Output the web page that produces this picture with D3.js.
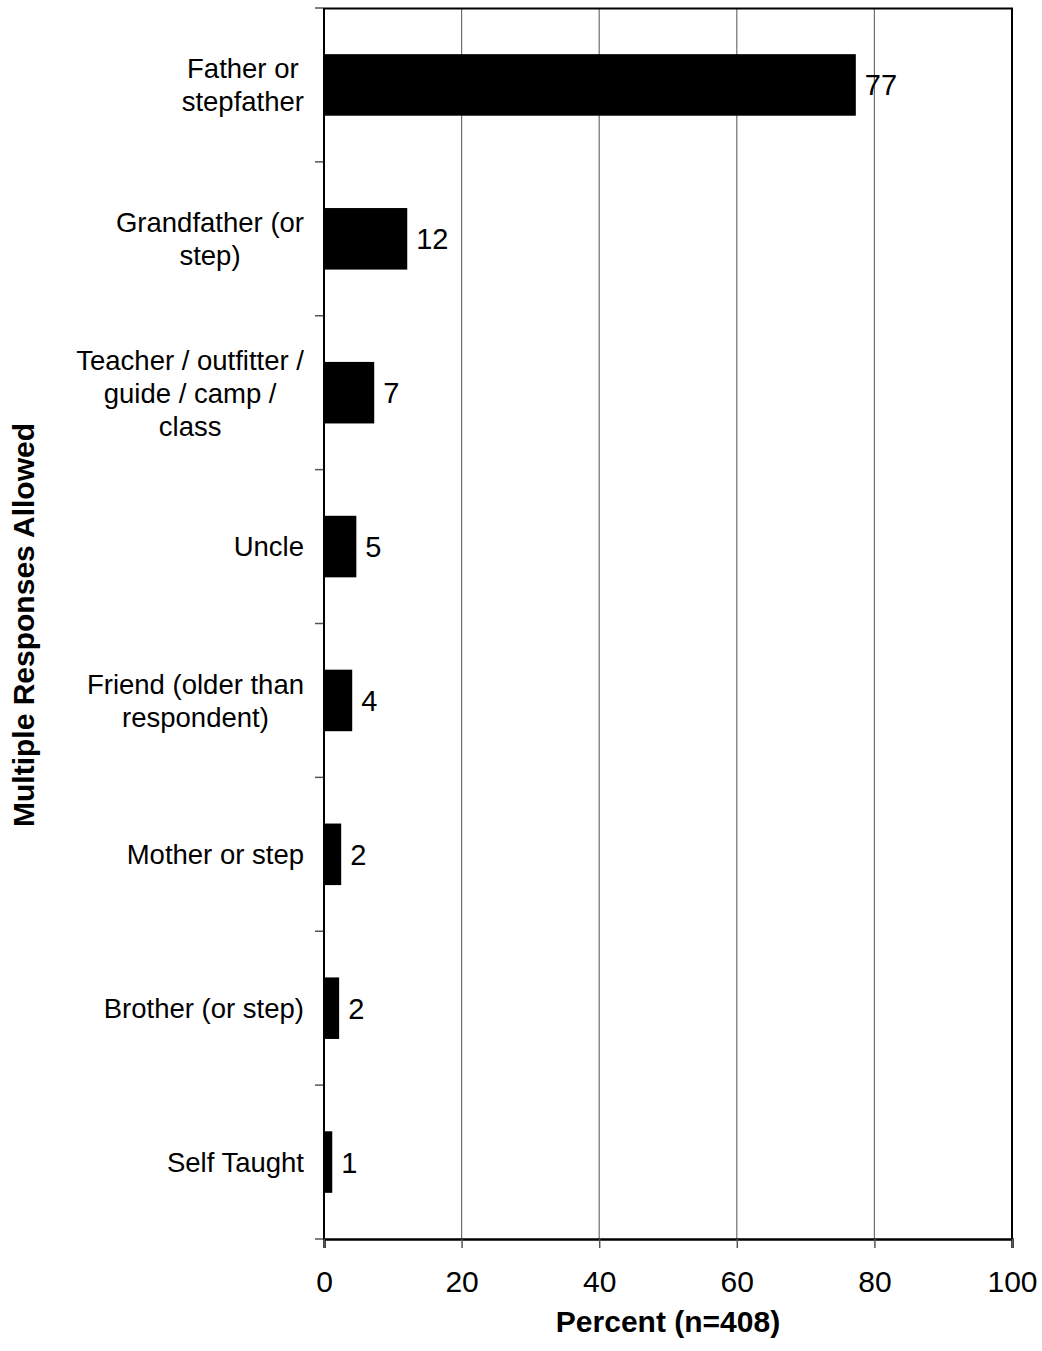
<!DOCTYPE html>
<html>
<head>
<meta charset="utf-8">
<script src="https://cdn.jsdelivr.net/npm/d3@7"></script>
<style>
  html, body { margin: 0; padding: 0; background: #fff; }
  svg { display: block; font-family: "Liberation Sans", Arial, Helvetica, sans-serif; }
</style>
</head>
<body>
<svg id="chart" width="1042" height="1351"></svg>
<script>
const categories = [
  ["Father or", "stepfather"],
  ["Grandfather (or", "step)"],
  ["Teacher / outfitter /", "guide / camp /", "class"],
  ["Uncle"],
  ["Friend (older than", "respondent)"],
  ["Mother or step"],
  ["Brother (or step)"],
  ["Self Taught"]
];
const values = [77.3, 12.1, 7.3, 4.7, 4.1, 2.5, 2.2, 1.2];
const valueLabels = ["77", "12", "7", "5", "4", "2", "2", "1"];
const xTicks = [0, 20, 40, 60, 80, 100];
const xTitle = "Percent (n=408)";
const yTitle = "Multiple Responses Allowed";

(function () {
const svg = d3.select("#chart");
const pLeft = 324, pRight = 1012, pTop = 8, pBottom = 1239;

const x = d3.scaleLinear().domain([0, 100]).range([pLeft, pRight]);
const y = d3.scaleBand().domain(d3.range(categories.length)).range([pTop, pBottom]).paddingInner(0.6).paddingOuter(0.3);

// gridlines
svg.append("g").selectAll("line").data(xTicks.filter(t => t > 0 && t < 100)).join("line")
  .attr("x1", d => x(d)).attr("x2", d => x(d)).attr("y1", pTop).attr("y2", pBottom)
  .attr("stroke", "#6e6e6e").attr("stroke-width", 1.2);

// plot border top / right
svg.append("line").attr("x1", pLeft).attr("x2", pRight + 1).attr("y1", pTop + 0.5).attr("y2", pTop + 0.5)
  .attr("stroke", "#000").attr("stroke-width", 2);
svg.append("line").attr("x1", pRight).attr("x2", pRight).attr("y1", pTop).attr("y2", pBottom)
  .attr("stroke", "#000").attr("stroke-width", 2);

// bars
svg.append("g").selectAll("rect").data(values).join("rect")
  .attr("x", x(0)).attr("y", (d, i) => y(i))
  .attr("width", d => x(d) - x(0)).attr("height", y.bandwidth())
  .attr("fill", "#000");

// value labels
svg.append("g").selectAll("text").data(values).join("text")
  .attr("x", d => x(d) + 9).attr("y", (d, i) => y(i) + y.bandwidth() / 2)
  .attr("dy", "0.36em").attr("font-size", 29).attr("fill", "#000")
  .text((d, i) => valueLabels[i]);

// y-axis line and tick stubs at band boundaries
const step = (pBottom - pTop) / categories.length;
const yBounds = d3.range(categories.length + 1).map(i => pTop + i * step);
svg.append("g").selectAll("line").data(yBounds).join("line")
  .attr("x1", pLeft - 9).attr("x2", pLeft).attr("y1", d => d).attr("y2", d => d)
  .attr("stroke", "#555").attr("stroke-width", 1.5);
svg.append("line").attr("x1", pLeft).attr("x2", pLeft).attr("y1", pTop).attr("y2", pBottom + 1)
  .attr("stroke", "#000").attr("stroke-width", 2);

// x axis
const xAxis = d3.axisBottom(x).tickValues(xTicks).tickSize(9).tickPadding(23).tickFormat(d3.format("d"));
const gx = svg.append("g").attr("transform", `translate(0,${pBottom})`).call(xAxis);
gx.select(".domain").attr("stroke", "#000").attr("stroke-width", 2.5);
gx.selectAll(".tick line").attr("stroke", "#555").attr("stroke-width", 1.5);
gx.selectAll(".tick text").attr("font-size", 30).attr("fill", "#000")
  .attr("font-family", "'Liberation Sans', Arial, sans-serif");

// category labels: block right-aligned, each line centered
const lineH = 33;
const catG = svg.append("g");
categories.forEach((lines, i) => {
  const g = catG.append("g");
  const cy = y(i) + y.bandwidth() / 2;
  const texts = lines.map((ln, j) => g.append("text")
    .attr("font-size", 27.5).attr("fill", "#000").attr("text-anchor", "middle")
    .attr("y", cy + (j - (lines.length - 1) / 2) * lineH).attr("dy", "0.36em")
    .text(ln));
  const maxW = d3.max(texts, t => t.node().getComputedTextLength());
  texts.forEach(t => t.attr("x", 304 - maxW / 2));
});

// axis titles
svg.append("text").attr("x", (pLeft + pRight) / 2).attr("y", 1332)
  .attr("text-anchor", "middle").attr("font-size", 30).attr("font-weight", "bold")
  .text(xTitle);
svg.append("text").attr("transform", "translate(34,625) rotate(-90)")
  .attr("text-anchor", "middle").attr("font-size", 30).attr("font-weight", "bold")
  .text(yTitle);
})();
</script>
</body>
</html>
